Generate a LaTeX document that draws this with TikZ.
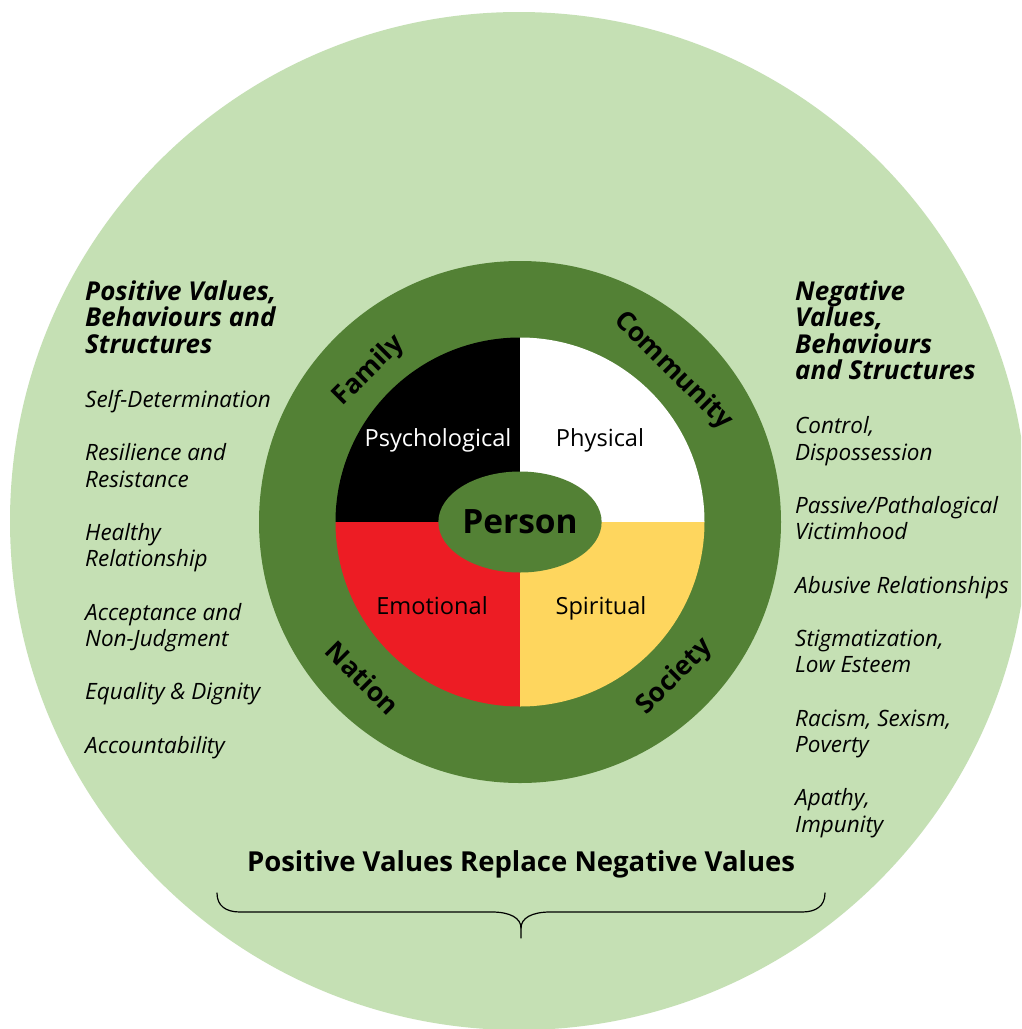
\documentclass[tikz,border=0pt]{standalone}
\usepackage{fontspec}
\setmainfont{Open Sans}
\usetikzlibrary{shapes.geometric}
\definecolor{ltgreen}{HTML}{C5E0B4}
\definecolor{dkgreen}{HTML}{538135}
\definecolor{qred}{HTML}{ED1C24}
\definecolor{qyellow}{HTML}{FED65E}
\tikzset{
  ringlbl/.style={font=\bfseries\fontsize{26.5}{26.5}\selectfont, text=black, inner sep=0pt},
  quadlbl/.style={font=\fontsize{23.6}{23.6}\selectfont, inner sep=0pt, anchor=base},
  headline/.style={font=\bfseries\itshape\fontsize{26}{26.6}\selectfont, anchor=base west, inner sep=0pt},
  itemline/.style={font=\itshape\fontsize{22.5}{26.6}\selectfont, anchor=base west, inner sep=0pt},
  titlelbl/.style={font=\bfseries\fontsize{27.5}{27.5}\selectfont, anchor=base, inner sep=0pt}
}
\begin{document}
\begin{tikzpicture}[x=1pt,y=-1pt]
\useasboundingbox (0,0) rectangle (1021,1029);
\clip (0,0) rectangle (1021,1029);
\fill[white] (0,0) rectangle (1021,1029);
% outer circle
\fill[ltgreen] (519,521) circle[radius=509];
% ring
\fill[dkgreen] (520,522) circle[radius=261];
% quadrants
\begin{scope}
  \clip (520,522) circle[radius=184.5];
  \fill[black] (520,522) rectangle (330,330);
  \fill[white] (520,522) rectangle (710,330);
  \fill[qred] (520,522) rectangle (330,712);
  \fill[qyellow] (520,522) rectangle (710,712);
\end{scope}
% person
\node[ellipse, fill=dkgreen, minimum width=160pt, minimum height=101pt, inner sep=0pt,
      font=\bfseries\fontsize{33.5}{33.5}\selectfont] (person) at (520,522) {Person};
% quadrant labels
\node[quadlbl, text=white] (psych) at (438,446) {Psychological};
\node[quadlbl] (phys) at (600,446) {Physical};
\node[quadlbl] (emo) at (432,614) {Emotional};
\node[quadlbl] (spir) at (601,614) {Spiritual};
% ring labels
\node[ringlbl, rotate=45] (family) at (369,371) {Family};
\node[ringlbl, rotate=-45] (community) at (673,371) {Community};
\node[ringlbl, rotate=-45] (nation) at (363,678) {Nation};
\node[ringlbl, rotate=45] (society) at (675,677) {Society};
% left column
\node[headline] (lh1) at (85,300) {Positive Values,};
\node[headline] (lh2) at (85,326.6) {Behaviours and};
\node[headline] (lh3) at (85,353.2) {Structures};
\node[itemline] (l1) at (85,407.5) {Self-Determination};
\node[itemline] (l2) at (85,460.5) {Resilience and};
\node[itemline] (l3) at (85,487.1) {Resistance};
\node[itemline] (l4) at (85,540.3) {Healthy};
\node[itemline] (l5) at (85,566.9) {Relationship};
\node[itemline] (l6) at (85,620.1) {Acceptance and};
\node[itemline] (l7) at (85,646.7) {Non-Judgment};
\node[itemline] (l8) at (85,699.9) {Equality \& Dignity};
\node[itemline] (l9) at (85,753.1) {Accountability};
% right column
\node[headline] (rh1) at (795,300) {Negative};
\node[headline] (rh2) at (795,326.6) {Values,};
\node[headline] (rh3) at (795,353.2) {Behaviours};
\node[headline] (rh4) at (795,379.8) {and Structures};
\node[itemline] (r1) at (795,433.5) {Control,};
\node[itemline] (r2) at (795,460.1) {Dispossession};
\node[itemline] (r3) at (795,513.3) {Passive/Pathalogical};
\node[itemline] (r4) at (795,539.9) {Victimhood};
\node[itemline] (r5) at (795,593.1) {Abusive Relationships};
\node[itemline] (r6) at (795,646.3) {Stigmatization,};
\node[itemline] (r7) at (795,672.9) {Low Esteem};
\node[itemline] (r8) at (795,726.1) {Racism, Sexism,};
\node[itemline] (r9) at (795,752.7) {Poverty};
\node[itemline] (r10) at (795,805.9) {Apathy,};
\node[itemline] (r11) at (795,832.5) {Impunity};
% title
\node[titlelbl] (title) at (521,871) {Positive Values Replace Negative Values};
% brace
\coordinate (bl) at (217,893);
\coordinate (br) at (825,893);
\coordinate (btip) at (521,938);
\draw[line width=1.2pt, line cap=round]
  (bl) .. controls (217,906) and (226,912) .. (240,912) -- (492,912)
  .. controls (510,912) and (521,918) .. (521,928) -- (btip);
\draw[line width=1.2pt, line cap=round]
  (br) .. controls (825,906) and (816,912) .. (802,912) -- (550,912)
  .. controls (532,912) and (521,918) .. (521,928);
\end{tikzpicture}
\end{document}
